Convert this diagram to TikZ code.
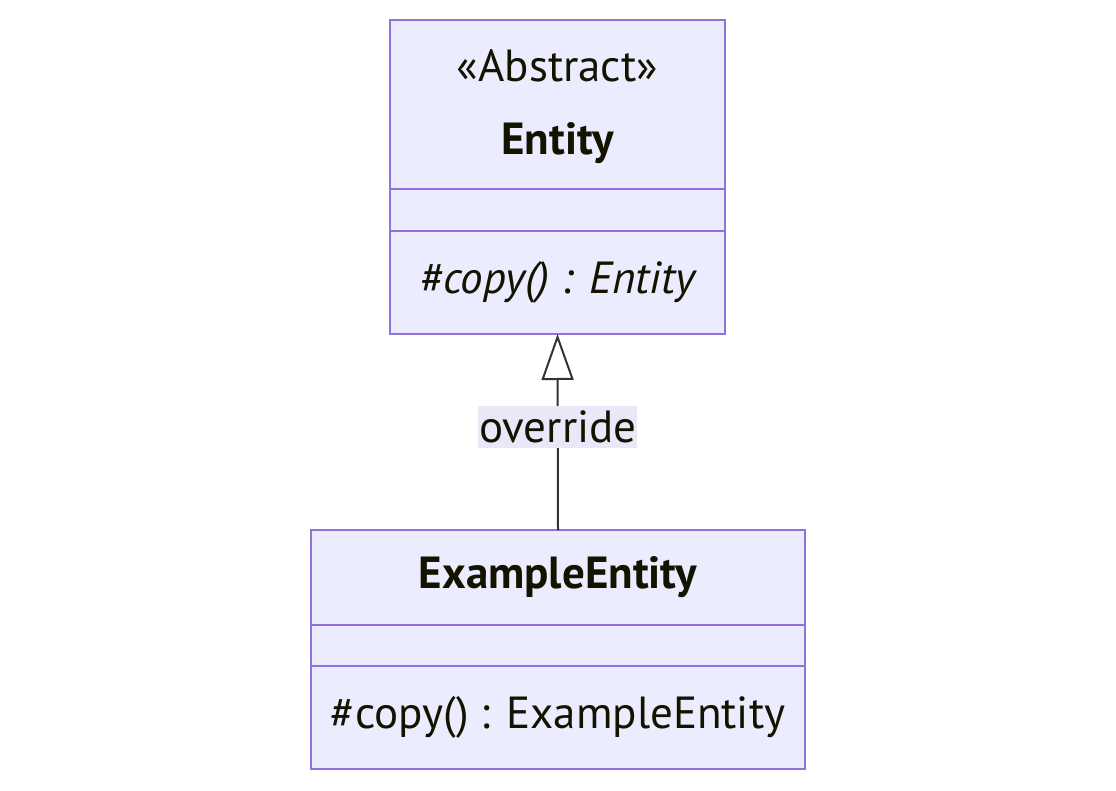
\documentclass[tikz,border=0pt]{standalone}
\usepackage{fontspec}
\setmainfont{PT Sans}
\usetikzlibrary{arrows.meta, positioning}

\definecolor{umlfill}{HTML}{ECECFF}
\definecolor{umlborder}{HTML}{9370DB}
\definecolor{umltext}{HTML}{131300}
\definecolor{umlline}{HTML}{333333}
\definecolor{umllabel}{HTML}{E8E8F8}

\tikzset{
  classpart/.style={draw=umlborder, fill=umlfill, line width=2pt, inner sep=0pt, outer sep=0pt},
  classtext/.style={text=umltext, font=\fontsize{45}{52}\selectfont, inner sep=0pt},
  inherits/.style={draw=umlline, line width=2pt,
    -{Triangle[open, length=46, width=32, line width=2pt]}},
  edgelabel/.style={fill=umllabel, text=umltext, font=\fontsize{45}{52}\selectfont,
    inner xsep=1pt, inner ysep=5pt}
}

\begin{document}
\begin{tikzpicture}[x=1pt, y=-1pt]
    \useasboundingbox (0,0) rectangle (1116,791);

    % Abstract class
    \node[classpart, minimum width=335, minimum height=169, anchor=north] (entityHead) at (557.5,20) {};
    \node[classpart, minimum width=335, minimum height=42, anchor=north] (entityAttr) at (entityHead.south) {};
    \node[classpart, minimum width=335, minimum height=103, anchor=north] (entityOps) at (entityAttr.south) {};

    \node[classtext] (entityStereo) at (557.5,66) {«Abstract»};
    \node[classtext, font=\fontsize{45}{52}\selectfont\bfseries] (entityName) at (557.5,143) {Entity};
    \node[classtext, font=\fontsize{45}{52}\selectfont\itshape] (entityCopy) at (entityOps.center) {\#copy() : Entity};

    % Concrete class
    \node[classpart, minimum width=494, minimum height=95, anchor=north] (exampleHead) at (558,530) {};
    \node[classpart, minimum width=494, minimum height=41, anchor=north] (exampleAttr) at (exampleHead.south) {};
    \node[classpart, minimum width=494, minimum height=103, anchor=north] (exampleOps) at (exampleAttr.south) {};

    \node[classtext, font=\fontsize{45}{52}\selectfont\bfseries] (exampleName) at (exampleHead.center) {ExampleEntity};
    \node[classtext] (exampleCopy) at (exampleOps.center) {\#copy() : ExampleEntity};

    % Inheritance
    \draw[inherits] (exampleHead.north) -- node[edgelabel, pos=0.525] (overrideLabel) {override} (entityOps.south);
\end{tikzpicture}
\end{document}
